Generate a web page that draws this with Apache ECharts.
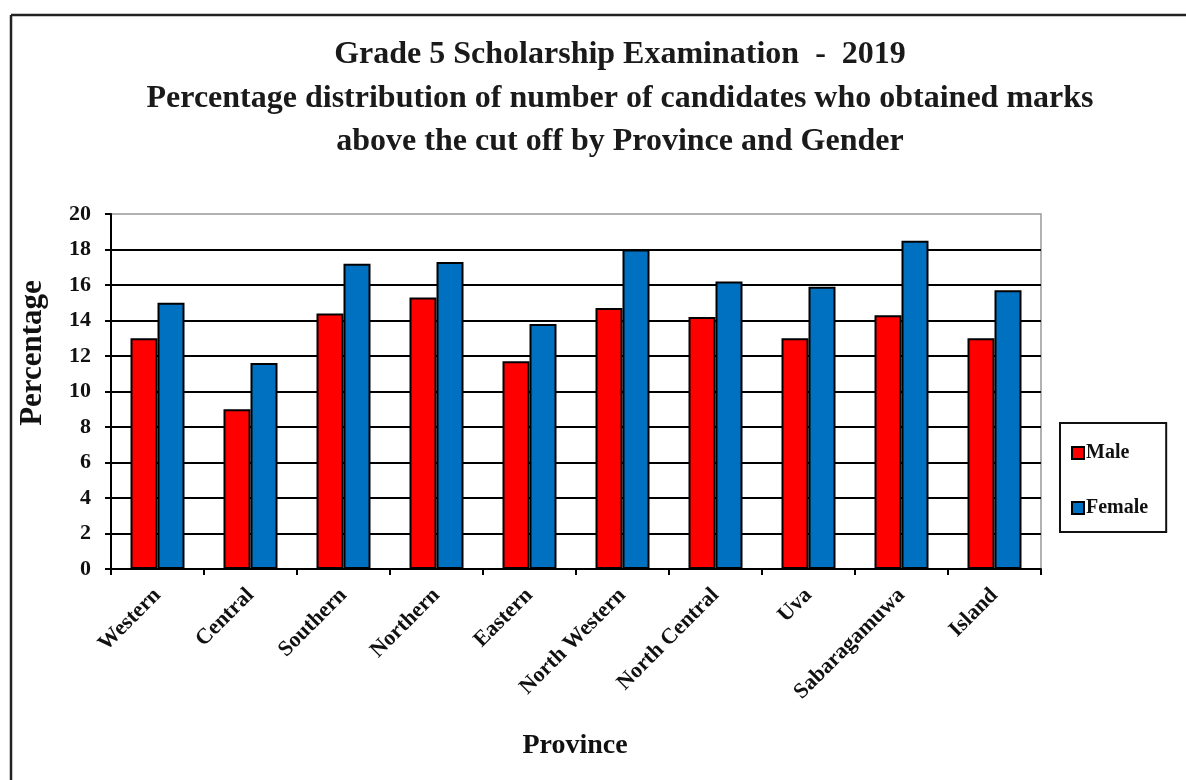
<!DOCTYPE html>
<html>
<head>
<meta charset="utf-8">
<script src="https://cdn.jsdelivr.net/npm/echarts@6/dist/echarts.min.js"></script>
<style>html,body{margin:0;padding:0;background:#fff;}#c{width:1186px;height:780px;}</style>
</head>
<body>
<div id="c"></div>
<script>
const categories = ['Western','Central','Southern','Northern','Eastern','North Western','North Central','Uva','Sabaragamuwa','Island'];
const maleValues = [13.0, 9.0, 14.4, 15.3, 11.7, 14.7, 14.2, 13.0, 14.3, 13.0];
const femaleValues = [15.0, 11.6, 17.2, 17.3, 13.8, 18.0, 16.2, 15.9, 18.5, 15.7];
const seriesNames = ['Male','Female'];
const titleLines = ['Grade 5 Scholarship Examination  -  2019','Percentage distribution of number of candidates who obtained marks','above the cut off by Province and Gender'];
const yAxisName = 'Percentage';
const xAxisName = 'Province';

const FONT = '"Liberation Serif", "Times New Roman", serif';
const chart = echarts.init(document.getElementById('c'), null, {renderer:'canvas'});
chart.setOption({
  backgroundColor: '#fff',
  animation: false,
  title: {
    text: titleLines.join('\n'),
    left: 615, top: 28, textAlign: 'center',
    textStyle: {fontFamily: FONT, fontWeight: 'bold', fontSize: 32, lineHeight: 43.5, color: '#1a1a1a'}
  },
  graphic: [
    {type:'line', shape:{x1:11,y1:15,x2:1186,y2:15}, style:{stroke:'#222', lineWidth:2.5}},
    {type:'line', shape:{x1:11,y1:15,x2:11,y2:780}, style:{stroke:'#222', lineWidth:2.5}},
    {type:'text', x: 33, y: 353, rotation: Math.PI/2, style:{text: yAxisName, fontFamily: FONT, fontWeight:'bold', fontSize: 31, fill:'#111', textAlign:'center', textVerticalAlign:'middle'}},
    {type:'text', x: 575, y: 746, style:{text: xAxisName, fontFamily: FONT, fontWeight:'bold', fontSize: 28, fill:'#111', textAlign:'center', textVerticalAlign:'middle'}}
  ],
  grid: {left:111, right:145, top:214, bottom:211, show:true, borderColor:'#999', borderWidth:1.5, backgroundColor:'#fff'},
  legend: {
    orient:'vertical', left:1060, top:423,
    padding:[20,18,14,11], itemGap:35,
    borderColor:'#111', borderWidth:2,
    itemWidth:12, itemHeight:12, icon:'rect',
    textStyle:{fontFamily:FONT, fontWeight:'bold', fontSize:20, color:'#111', padding:[0,0,0,-3]},
    data: seriesNames
  },
  xAxis: {
    type:'category', data: categories, boundaryGap:true,
    axisLine:{lineStyle:{color:'#000', width:2}},
    axisTick:{show:true, length:6, lineStyle:{color:'#000', width:2}},
    axisLabel:{rotate:45, interval:0, fontFamily:FONT, fontWeight:'bold', fontSize:22, color:'#111', margin:23}
  },
  yAxis: {
    type:'value', min:0, max:20, interval:2,
    axisLine:{show:true, lineStyle:{color:'#000', width:2}},
    axisTick:{show:true, inside:false, length:6, lineStyle:{color:'#000', width:2}},
    axisLabel:{fontFamily:FONT, fontWeight:'bold', fontSize:22, color:'#111', margin:20},
    splitLine:{show:true, showMaxLine:false, lineStyle:{color:'#000', width:2}}
  },
  series: [
    {name:seriesNames[0], type:'bar', data:maleValues, barWidth:27, barGap:'0%',
     itemStyle:{color:'#FF0000', borderColor:'#000', borderWidth:2}},
    {name:seriesNames[1], type:'bar', data:femaleValues, barWidth:27, barGap:'0%',
     itemStyle:{color:'#0070C0', borderColor:'#000', borderWidth:2}}
  ]
});
</script>
</body>
</html>
